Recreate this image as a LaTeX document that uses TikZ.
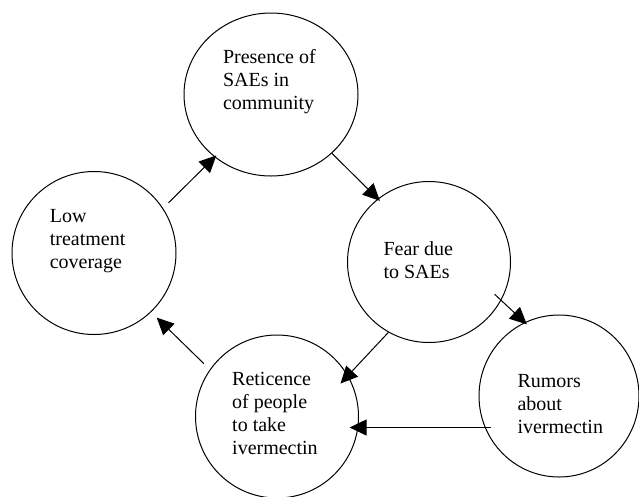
\documentclass[tikz,border=0pt]{standalone}
\usepackage{fontspec}
\setmainfont{Liberation Serif}
\usetikzlibrary{arrows.meta,shapes.geometric}

\tikzset{every picture/.style={line width=1pt}}
\tikzset{
  bubble/.style={ellipse, draw, minimum width=164pt, minimum height=163pt, inner sep=0pt},
  lbl/.style={anchor=base west, align=left, inner sep=0pt, font=\fontsize{20pt}{23pt}\selectfont},
  arr/.style={-{Triangle[length=17pt,width=16pt]}}
}

\begin{document}
\begin{tikzpicture}[x=1pt,y=1pt,yscale=-1]
  \useasboundingbox (0,0) rectangle (639,496);

  %Shape: Circles
  \node [bubble, minimum width=174pt] (presence) at (271,94.5) {};
  \node [bubble] (low) at (94,253) {};
  \node [bubble, minimum width=163pt, minimum height=161pt] (fear) at (429,262) {};
  \node [bubble, minimum width=160pt, minimum height=162pt] (rumors) at (559,396) {};
  \node [bubble, minimum width=163pt] (reticence) at (277,416.5) {};

  % Text Node (anchored on the last line)
  \node [lbl] (presencetxt) at (222.5,109.3) {Presence of\\SAEs in\\community};
  % Text Node
  \node [lbl] (lowtxt) at (49.3,268.7) {Low\\treatment\\coverage};
  % Text Node
  \node [lbl] (feartxt) at (383,278) {Fear due\\to SAEs};
  % Text Node
  \node [lbl] (rumorstxt) at (517,433.3) {Rumors\\about\\ivermectin};
  % Text Node
  \node [lbl] (reticencetxt) at (231.7,454) {Reticence\\of people\\to take\\ivermectin};

  %Straight Lines
  \draw [arr, shorten <=7.5pt, shorten >=-2.5pt] (low.33) -- (presence.228);
  \draw [arr, shorten >=-3pt] (presence.316) -- (fear.129);
  \draw [arr, shorten <=-9pt, shorten >=-3pt] (fear.332) -- (rumors.115);
  \draw [arr, shorten >=-11pt] (fear.240) -- (reticence.30);
  \draw [arr, shorten <=-6pt, shorten >=-9.4pt] (rumors.203) -- (rumors.203 -| reticence.east);
  \draw [arr, shorten <=8.3pt, shorten >=7.8pt] (reticence.145) -- (low.314);

\end{tikzpicture}
\end{document}
